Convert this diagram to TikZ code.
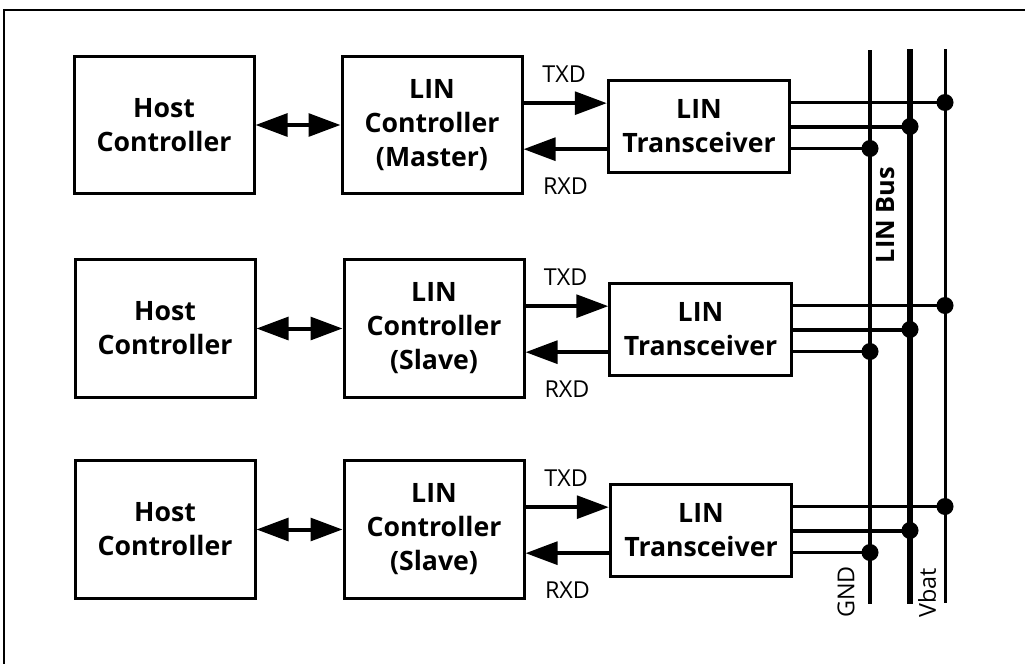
\documentclass[tikz,border=0pt]{standalone}
\usepackage{fontspec}
\setmainfont{Open Sans}
\usetikzlibrary{arrows.meta}

\tikzset{
  block/.style={draw, line width=2.25pt, align=center, inner sep=0pt,
    minimum width=135pt, minimum height=103pt,
    font=\bfseries\fontsize{20}{25.5}\selectfont},
  xcvr/.style={block, minimum width=136pt, minimum height=69pt},
  sig/.style={line width=3pt, -{Triangle[length=24pt,width=17pt]}},
  dsig/.style={line width=3pt, {Triangle[length=24pt,width=17pt]}-{Triangle[length=24pt,width=17pt]}},
  lbl/.style={inner sep=0pt, font=\fontsize{17.5}{20}\selectfont},
  wire/.style={line width=1.9pt},
  linwire/.style={line width=3pt},
  dot/.style={circle, fill, inner sep=0pt, minimum size=12.75pt},
}

\begin{document}
\begin{tikzpicture}[x=0.75pt,y=0.75pt,yscale=-1]
\useasboundingbox (0,0) rectangle (1025,664);

% Frame
\draw[line width=1.5pt] (4,664) -- (4,10) -- (1025,10);

% Host controllers
\node[block] (host1) at (164,125) {Host\\Controller};
\node[block] (host2) at (165,328.5) {Host\\Controller};
\node[block] (host3) at (165,529.5) {Host\\Controller};

% LIN controllers
\node[block] (ctl1) at (432,125) {LIN\\Controller\\(Master)};
\node[block] (ctl2) at (434,328.5) {LIN\\Controller\\(Slave)};
\node[block] (ctl3) at (434,529.5) {LIN\\Controller\\(Slave)};

% Transceivers
\node[xcvr] (trx1) at (699,126.5) {LIN\\Transceiver};
\node[xcvr] (trx2) at (700.5,329.5) {LIN\\Transceiver};
\node[xcvr] (trx3) at (701,530.5) {LIN\\Transceiver};

% Bus lines
\coordinate (gndT) at (870,50);  \coordinate (gndB) at (870,604);
\coordinate (linT) at (910,49);  \coordinate (linB) at (910,604);
\coordinate (vbatT) at (945,49); \coordinate (vbatB) at (945,603);
\draw[line width=2.6pt] (gndT) -- (gndB);
\draw[line width=4.5pt] (linT) -- (linB);
\draw[line width=2.25pt] (vbatT) -- (vbatB);

% Host <-> LIN controller
\draw[dsig] (host1) -- (ctl1);
\draw[dsig] (host2) -- (ctl2);
\draw[dsig] (host3) -- (ctl3);

% TXD / RXD
\foreach \i in {1,2,3}{
  \coordinate (tx\i) at ([yshift=-17.5pt]trx\i.west);
  \coordinate (rx\i) at ([yshift=17pt]trx\i.west);
  \draw[sig] (ctl\i.east |- tx\i) -- (tx\i);
  \draw[sig] (rx\i) -- (ctl\i.east |- rx\i);
  \node[lbl] (txd\i) at ([xshift=-32pt,yshift=-39.5pt]trx\i.west) {TXD};
  \node[lbl] (rxd\i) at ([xshift=-31pt,yshift=44.5pt]trx\i.west) {RXD};
}

% Transceiver to bus
\foreach \i in {1,2,3}{
  \coordinate (ov\i) at ([yshift=-18pt]trx\i.east);
  \coordinate (ol\i) at (trx\i.east);
  \coordinate (og\i) at ([yshift=16.5pt]trx\i.east);
  \draw[wire] (ov\i) -- (ov\i -| vbatT) node[dot] {};
  \draw[linwire] (ol\i) -- (ol\i -| linT) node[dot] {};
  \draw[wire] (og\i) -- (og\i -| gndT) node[dot] {};
}

% Bus labels
\node[lbl, font=\bfseries\fontsize{19}{20}\selectfont, rotate=90] (buslbl) at (886,215) {LIN Bus};
\node[lbl, rotate=90] (gndlbl) at (846,592) {GND};
\node[lbl, rotate=90] (vbatlbl) at (927,593) {Vbat};

\end{tikzpicture}
\end{document}
